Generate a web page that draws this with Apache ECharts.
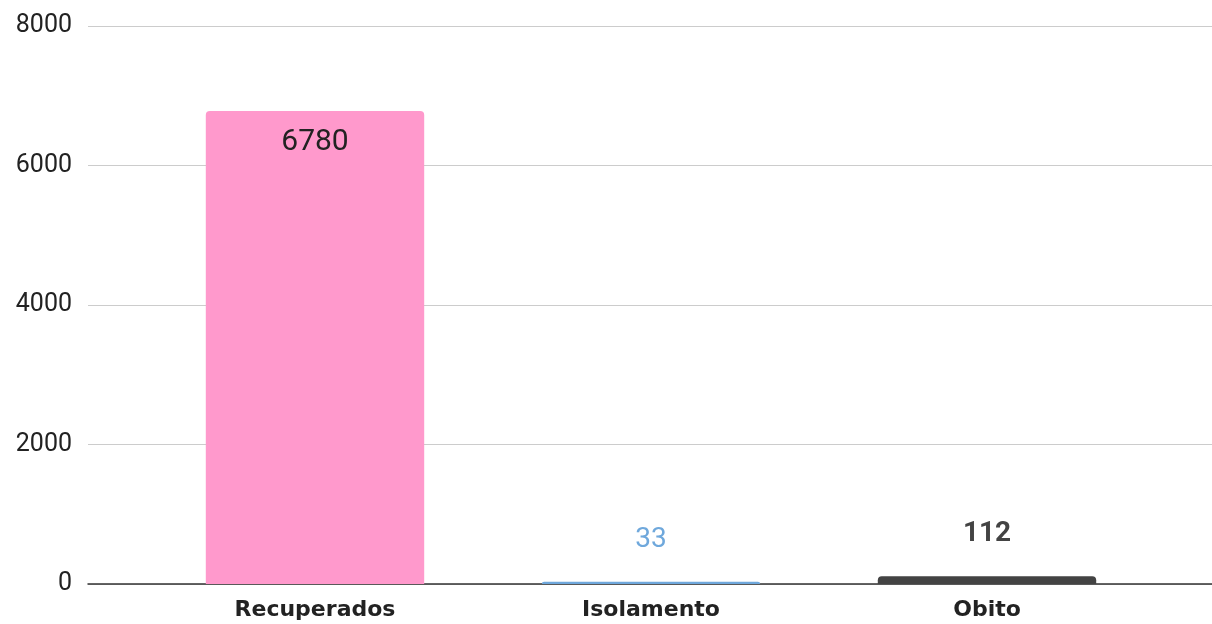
<!DOCTYPE html>
<html><head><meta charset="utf-8">
<script src="https://cdn.jsdelivr.net/npm/echarts@6/dist/echarts.min.js"></script>
<style>html,body{margin:0;padding:0;background:#fff}#c{width:1212px;height:624px}</style>
</head><body><div id="c"></div>
<script>
const categories = ['Recuperados', 'Isolamento', 'Obito'];
const values = [6780, 33, 112];
const barColors = ['#ff99cc', '#6fa8dc', '#434343'];
const labelColors = ['#222222', '#6fa8dc', '#434343'];
const yTicks = { min: 0, max: 8000, interval: 2000 };

const chart = echarts.init(document.getElementById('c'));
chart.setOption({
  animation: false,
  grid: [
    { left: 88, right: 0, top: 26, bottom: 40 },
    { left: 147, right: 57, top: 26, bottom: 40 }
  ],
  xAxis: [
    { gridIndex: 0, type: 'value', min: 0, max: 1,
      axisLine: { show: true, lineStyle: { color: '#333', width: 1.5 } },
      axisTick: { show: false }, axisLabel: { show: false }, splitLine: { show: false } },
    { gridIndex: 1, type: 'category', data: categories,
      axisLine: { show: false }, axisTick: { show: false },
      axisLabel: { margin: 15, fontFamily: 'DejaVu Sans', fontSize: 22, fontWeight: 'bold', color: '#222' } }
  ],
  yAxis: [
    { gridIndex: 0, type: 'value', min: yTicks.min, max: yTicks.max, interval: yTicks.interval,
      axisLine: { show: false }, axisTick: { show: false },
      axisLabel: { margin: 16, fontFamily: 'Roboto', fontSize: 25, color: '#222', formatter: v => String(v) },
      splitLine: { lineStyle: { color: '#cccccc', width: 1 } } },
    { gridIndex: 1, type: 'value', min: yTicks.min, max: yTicks.max, interval: yTicks.interval, show: false,
      splitLine: { show: false } }
  ],
  series: [{
    type: 'bar', xAxisIndex: 1, yAxisIndex: 1,
    barCategoryGap: '35%',
    data: values.map((v, i) => ({
      value: v,
      itemStyle: { color: barColors[i], borderRadius: [4, 4, 0, 0] },
      label: i === 0
        ? { show: true, position: 'insideTop', distance: 16, color: labelColors[i], fontSize: 30, fontFamily: 'Roboto' }
        : { show: true, position: 'top', distance: 28, color: labelColors[i], fontSize: 28, fontFamily: 'Roboto', fontWeight: i === 2 ? 'bold' : 'normal' }
    }))
  }]
});
</script></body></html>
